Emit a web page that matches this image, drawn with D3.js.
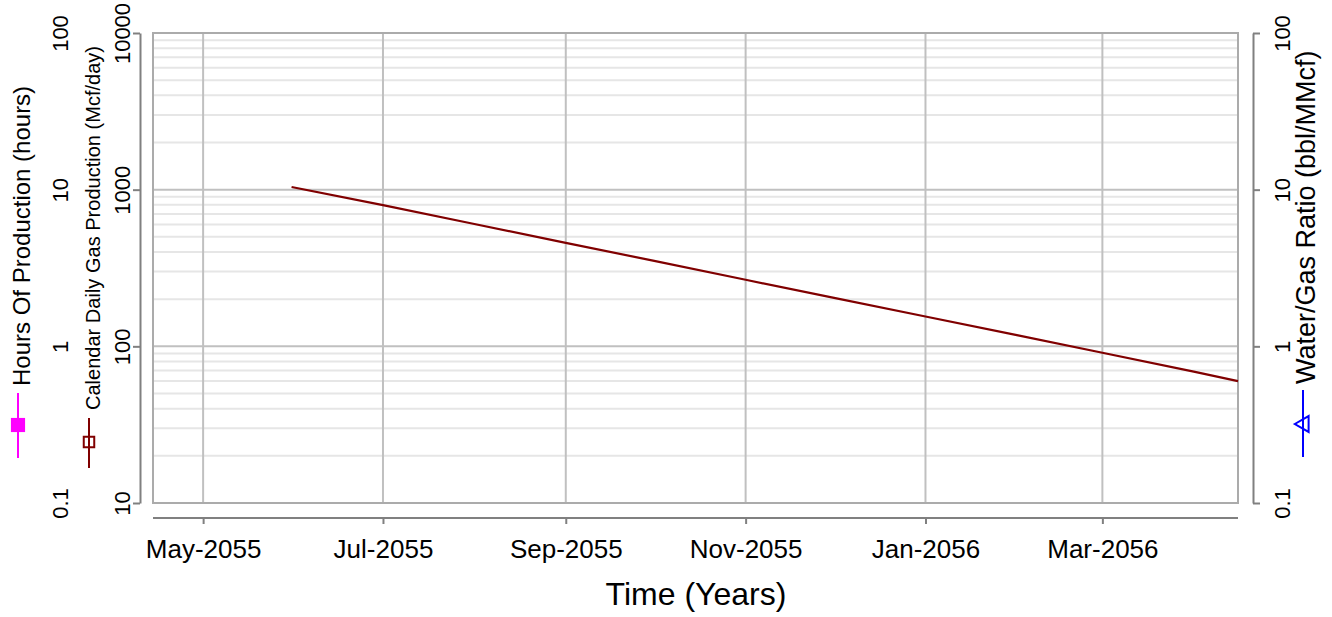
<!DOCTYPE html>
<html>
<head>
<meta charset="utf-8">
<script src="https://cdn.jsdelivr.net/npm/d3@7"></script>
<style>
  html, body { margin: 0; padding: 0; background: #fff; }
  svg { display: block; font-family: "Liberation Sans", Arial, sans-serif; }
</style>
</head>
<body>
<svg id="chart" width="1332" height="617"></svg>
<script>
// Monthly calendar-day gas rate (Mcf/day)
const gasDates = ["2055-05-31", "2055-07-01", "2055-08-01", "2055-09-01", "2055-10-01",
  "2055-11-01", "2055-12-01", "2056-01-01", "2056-02-01", "2056-03-01", "2056-04-01", "2056-04-16"];
const gasRate = [1040, 796, 604, 458, 351, 266, 204, 155, 118, 91, 69, 60];

// Axis tick values
const gasTicks = [10, 100, 1000, 10000];
const ratioTicks = [0.1, 1, 10, 100];
const hoursTicks = [0.1, 1, 10, 100];
const monthTicks = ["2055-05-01", "2055-07-01", "2055-09-01", "2055-11-01", "2056-01-01", "2056-03-01"];
const timeDomain = ["2055-04-14", "2056-04-16"];

const parse = d3.utcParse("%Y-%m-%d");
const svg = d3.select("#chart");

const plot = { left: 153, right: 1238, top: 33, bottom: 503 };

const x = d3.scaleUtc().domain(timeDomain.map(parse)).range([plot.left, plot.right]);
const yGas = d3.scaleLog().domain([10, 10000]).range([plot.bottom, plot.top]);
const yHours = d3.scaleLog().domain([0.1, 100]).range([plot.bottom, plot.top]);
const yRatio = d3.scaleLog().domain([0.1, 100]).range([plot.bottom, plot.top]);

// Minor horizontal grid (2..9 in each decade)
const minor = [];
for (let i = 0; i < gasTicks.length - 1; i++) {
  for (let m = 2; m <= 9; m++) minor.push(gasTicks[i] * m);
}
const grid = svg.append("g");
grid.selectAll("line.minor").data(minor).join("line")
  .attr("x1", plot.left).attr("x2", plot.right)
  .attr("y1", d => yGas(d)).attr("y2", d => yGas(d))
  .attr("stroke", "#e6e6e6").attr("stroke-width", 2);
grid.selectAll("line.major").data(gasTicks).join("line")
  .attr("x1", plot.left).attr("x2", plot.right)
  .attr("y1", d => yGas(d)).attr("y2", d => yGas(d))
  .attr("stroke", "#c0c0c0").attr("stroke-width", 2);
grid.selectAll("line.vert").data(monthTicks.map(parse)).join("line")
  .attr("x1", d => x(d)).attr("x2", d => x(d))
  .attr("y1", plot.top).attr("y2", plot.bottom)
  .attr("stroke", "#c0c0c0").attr("stroke-width", 2);

// Plot frame
svg.append("rect")
  .attr("x", plot.left).attr("y", plot.top)
  .attr("width", plot.right - plot.left).attr("height", plot.bottom - plot.top)
  .attr("fill", "none").attr("stroke", "#ababab").attr("stroke-width", 2);

// Gas rate series
const line = d3.line().x(d => x(d[0])).y(d => yGas(d[1]));
svg.append("path")
  .datum(gasDates.map((d, i) => [parse(d), gasRate[i]]))
  .attr("d", line)
  .attr("fill", "none").attr("stroke", "#800000").attr("stroke-width", 2.2);

function styleAxis(g, size) {
  g.attr("font-size", null).attr("font-family", null);
  g.select(".domain").attr("stroke", "#808080").attr("stroke-width", 2);
  g.selectAll(".tick line").attr("stroke", "#808080").attr("stroke-width", 2);
  g.selectAll(".tick text").attr("fill", "#000").style("font-size", size + "px")
    .style("font-family", "'Liberation Sans', Arial, sans-serif");
}

// Left gas axis
const gAxGas = svg.append("g").attr("transform", "translate(140,0)")
  .call(d3.axisLeft(yGas).tickValues(gasTicks).tickFormat(d3.format("d")).tickSizeInner(7).tickSizeOuter(0));
styleAxis(gAxGas, 22);
gAxGas.selectAll(".tick text")
  .attr("transform", "rotate(-90)").attr("x", 0).attr("y", -10).attr("dy", 0)
  .attr("text-anchor", "middle");

// Hours axis (labels only)
const gAxHours = svg.append("g").attr("transform", "translate(140,0)")
  .call(d3.axisLeft(yHours).tickValues(hoursTicks).tickFormat(d => d3.format("~g")(d)).tickSize(0));
styleAxis(gAxHours, 22);
gAxHours.select(".domain").remove();
gAxHours.selectAll(".tick line").remove();
gAxHours.selectAll(".tick text")
  .attr("transform", "rotate(-90)").attr("x", 0).attr("y", -72).attr("dy", 0)
  .attr("text-anchor", "middle");

// Right ratio axis
const gAxRatio = svg.append("g").attr("transform", "translate(1253,0)")
  .call(d3.axisRight(yRatio).tickValues(ratioTicks).tickFormat(d => d3.format("~g")(d)).tickSizeInner(7).tickSizeOuter(0));
styleAxis(gAxRatio, 22);
gAxRatio.selectAll(".tick text")
  .attr("transform", "rotate(-90)").attr("x", 0).attr("y", 37).attr("dy", 0)
  .attr("text-anchor", "middle");

// Time axis
const gAxX = svg.append("g").attr("transform", "translate(0,518)")
  .call(d3.axisBottom(x).tickValues(monthTicks.map(parse)).tickFormat(d3.utcFormat("%b-%Y")).tickSizeInner(6).tickSizeOuter(0));
styleAxis(gAxX, 26);
gAxX.select(".domain").attr("d", `M${plot.left},0H${plot.right}`);
gAxX.selectAll(".tick text").attr("y", 22);

// Axis titles
svg.append("text").attr("x", 696).attr("y", 605).attr("text-anchor", "middle")
  .style("font-size", "32px").text("Time (Years)");

svg.append("text").attr("transform", "translate(30,386) rotate(-90)")
  .style("font-size", "24px").text("Hours Of Production (hours)");

svg.append("text").attr("transform", "translate(100,410) rotate(-90)")
  .attr("textLength", 364).attr("lengthAdjust", "spacingAndGlyphs")
  .style("font-size", "21px").text("Calendar Daily Gas Production (Mcf/day)");

svg.append("text").attr("transform", "translate(1315,384) rotate(-90)")
  .style("font-size", "27px").text("Water/Gas Ratio (bbl/MMcf)");

// Legend keys beside titles
const keys = svg.append("g");
keys.append("line").attr("x1", 18).attr("x2", 18).attr("y1", 393).attr("y2", 458)
  .attr("stroke", "#ff00ff").attr("stroke-width", 2);
keys.append("path").attr("transform", "translate(18,425)")
  .attr("d", d3.symbol(d3.symbolSquare, 200)).attr("fill", "#ff00ff");

keys.append("line").attr("x1", 89).attr("x2", 89).attr("y1", 418).attr("y2", 468)
  .attr("stroke", "#800000").attr("stroke-width", 2);
keys.append("path").attr("transform", "translate(89,442)")
  .attr("d", d3.symbol(d3.symbolSquare, 110)).attr("fill", "none")
  .attr("stroke", "#800000").attr("stroke-width", 2);

keys.append("line").attr("x1", 1303).attr("x2", 1303).attr("y1", 390).attr("y2", 457)
  .attr("stroke", "#0000ff").attr("stroke-width", 2);
keys.append("path").attr("transform", "translate(1304,424) rotate(-90)")
  .attr("d", d3.symbol(d3.symbolTriangle, 110)).attr("fill", "none")
  .attr("stroke", "#0000ff").attr("stroke-width", 2);
</script>
</body>
</html>
